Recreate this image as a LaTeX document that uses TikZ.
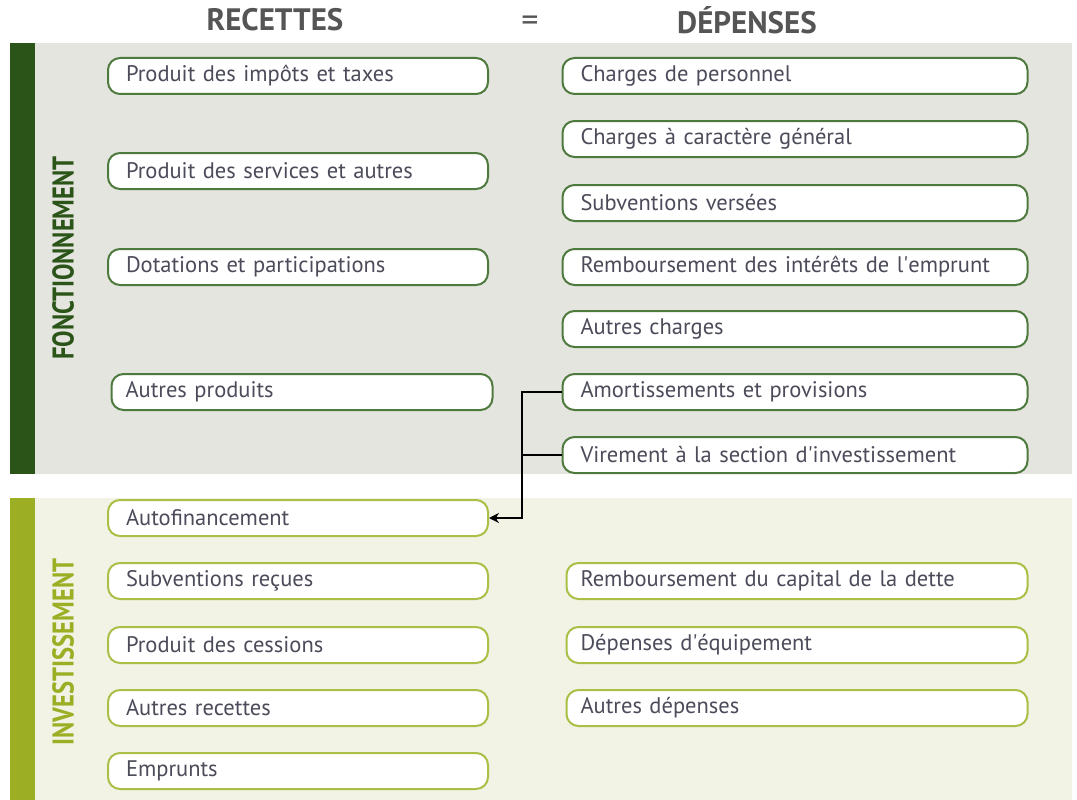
\documentclass[tikz,border=0pt]{standalone}
\usepackage{fontspec}
\setmainfont{PT Sans}
\newfontfamily\narrowfont[FakeStretch=0.82]{PT Sans}
\usetikzlibrary{arrows.meta, positioning}

\definecolor{fonctdark}{HTML}{2A5418}
\definecolor{fonctbg}{HTML}{E4E5DF}
\definecolor{fonctline}{HTML}{4E7A3E}
\definecolor{investdark}{HTML}{9BAE24}
\definecolor{investbg}{HTML}{F2F3E4}
\definecolor{investline}{HTML}{A9BF45}
\definecolor{boxtext}{HTML}{4B4B5A}
\definecolor{headtext}{HTML}{555555}

\tikzset{
  poste/.style={draw, fill=white, line width=2pt, rounded corners=12pt,
    minimum height=36pt, inner xsep=18pt, inner ysep=0pt, align=left,
    text=boxtext, font=\fontsize{22.5}{24}\selectfont},
  recette/.style={poste, text width=344pt},
  depense/.style={poste, text width=429pt},
  fonct/.style={draw=fonctline},
  invest/.style={draw=investline},
  titre/.style={text=headtext, font=\bfseries\fontsize{31}{34}\selectfont},
  section/.style={rotate=90, font=\narrowfont\bfseries\fontsize{30}{32}\selectfont}
}

\begin{document}
\begin{tikzpicture}[x=1pt, y=-1pt]
        \useasboundingbox (0,0) rectangle (1077,800);

        % bandes de fond
        \fill [fonctbg] (10,43) rectangle (1072,474);
        \fill [fonctdark] (10,43) rectangle (35,474);
        \fill [investbg] (10,498) rectangle (1072,800);
        \fill [investdark] (10,498) rectangle (35,800);

        \node[section, text=fonctdark] (lblfonct) at (63,258) {FONCTIONNEMENT};
        \node[section, text=investdark] (lblinvest) at (63,652) {INVESTISSEMENT};

        \node[titre] (recettes) at (275,20) {RECETTES};
        \node[titre, font=\fontsize{34}{36}\selectfont] (egal) at (530,24) {=};
        \node[titre] (depenses) at (747,20) {DÉPENSES};

        % fonctionnement
        \node[recette, fonct] (impots) at (298,76) {Produit des impôts et taxes};
        \node[recette, fonct] (services) at (298,171) {Produit des services et autres};
        \node[recette, fonct] (dotations) at (298,267) {Dotations et participations};
        \node[recette, fonct, inner xsep=14pt, text width=353pt] (autresprod) at (302,392) {Autres produits};

        \node[depense, fonct] (personnel) at (795,76) {Charges de personnel};
        \node[depense, fonct] (general) at (795,139) {Charges à caractère général};
        \node[depense, fonct] (subversees) at (795,203) {Subventions versées};
        \node[depense, fonct] (interets) at (795,267) {Remboursement des intérêts de l\textquotesingle emprunt};
        \node[depense, fonct] (autrescharges) at (795,329) {Autres charges};
        \node[depense, fonct] (amort) at (795,392) {Amortissements et provisions};
        \node[depense, fonct] (virement) at (795,455) {Virement à la section d\textquotesingle investissement};

        % investissement
        \node[recette, invest] (autofin) at (298,518) {Autofinancement};
        \node[recette, invest] (subrecues) at (298,581) {Subventions reçues};
        \node[recette, invest] (cessions) at (298,645) {Produit des cessions};
        \node[recette, invest] (autresrec) at (298,708) {Autres recettes};
        \node[recette, invest] (emprunts) at (298,771) {Emprunts};

        \node[depense, invest, inner xsep=14pt, text width=433pt] (capital) at (797,581) {Remboursement du capital de la dette};
        \node[depense, invest, inner xsep=14pt, text width=433pt] (equipement) at (797,645) {Dépenses d\textquotesingle équipement};
        \node[depense, invest, inner xsep=14pt, text width=433pt] (autresdep) at (797,708) {Autres dépenses};

        % liaison
        \coordinate (split) at (522,455);
        \draw [line width=2.4pt, -{Stealth[length=10pt, width=10pt]}] (amort.west) -| (split |- autofin.east) -- (autofin.east);
        \draw [line width=2.4pt] (virement.west) -- (split);

    \end{tikzpicture}
\end{document}
